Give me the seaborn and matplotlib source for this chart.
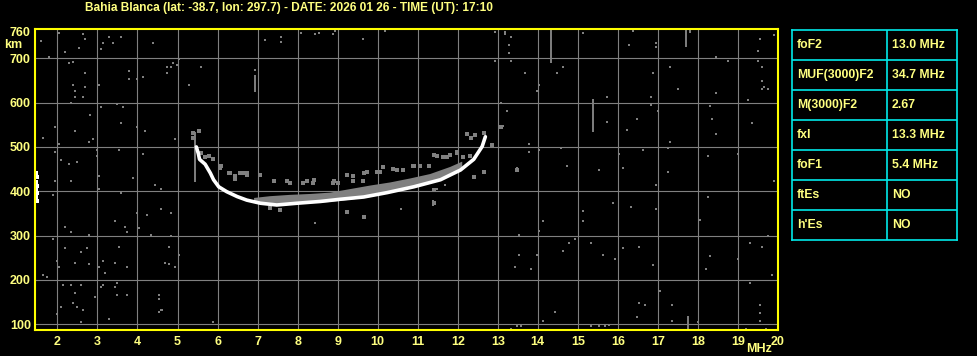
import matplotlib
matplotlib.use("Agg")
import matplotlib.pyplot as plt
import seaborn as sns
import pandas as pd

# ---------------- data ----------------
title = "Bahia Blanca (lat: -38.7, lon: 297.7) - DATE: 2026 01 26 - TIME (UT): 17:10"
x_ticks = list(range(2, 21))
y_ticks = [100, 200, 300, 400, 500, 600, 700, 760]

# main (white) F-trace
trace_f = [5.47, 5.52, 5.55, 5.69, 5.82, 5.90, 6.03, 6.23, 6.49, 6.73, 7.07, 7.48,
           7.99, 8.57, 9.07, 9.65, 10.24, 10.90, 11.57, 12.07, 12.40, 12.61, 12.69]
trace_h = [500, 485, 472, 461, 441, 426, 410, 399, 388, 380, 373, 369,
           373, 377, 382, 387, 397, 410, 426, 448, 472, 501, 523]

# grey echo band just above the trace
band_f = [6.9, 7.3, 7.8, 8.3, 8.8, 9.3, 9.8, 10.3, 10.8, 11.3, 11.8, 12.1]
band_lo = [375, 371, 371, 374, 377, 382, 388, 398, 408, 418, 436, 450]
band_hi = [386, 390, 393, 395, 398, 406, 414, 421, 430, 440, 456, 468]

# scattered grey echo marks around the trace
echo_f = [5.59, 5.69, 5.79, 5.89, 6.09, 6.29, 6.44, 6.64, 6.74, 6.44, 6.07, 6.32, 6.57,
          6.73, 7.07, 7.40, 7.73, 8.23, 8.40, 8.90, 9.23, 9.65, 10.07, 10.48, 10.90, 11.40,
          11.73, 11.98, 12.32, 12.65, 12.86, 13.07, 13.48, 7.32, 7.57, 9.23, 9.65, 11.40,
          11.40, 12.40, 12.65, 7.81, 8.14, 8.39, 8.89, 9.02, 9.39, 9.64, 10.14, 10.39, 10.64,
          10.89, 11.06, 11.27, 11.48, 11.64, 11.81, 11.98, 12.14, 12.31, 9.73, 9.98, 9.39,
          5.38, 5.38, 5.53, 12.24, 12.44]
echo_h = [486, 477, 479, 473, 456, 441, 435, 441, 441, 428, 452, 441, 441,
          437, 437, 422, 422, 422, 426, 422, 437, 441, 444, 448, 456, 482,
          478, 486, 520, 531, 505, 546, 448, 362, 358, 354, 343, 403,
          373, 433, 444, 418, 419, 419, 418, 418, 422, 424, 454, 450, 447,
          458, 458, 458, 480, 477, 482, 488, 477, 480, 443, 443, 435,
          532, 520, 537, 530, 526]

# white echoes at the left edge
edge_f = [1.47, 1.49, 1.47, 1.50, 1.47, 1.49, 1.47, 1.48]
edge_h = [442, 433, 421, 412, 404, 396, 387, 378]

# background noise specks
noise_f = [1.59, 2.03, 2.65, 2.69, 2.19, 2.54, 3.29, 3.14, 3.38, 3.59, 3.09, 2.29, 2.39, 1.79,
           2.69, 2.38, 2.44, 2.69, 2.44, 2.65, 2.34, 3.03, 3.79, 3.79, 4.13, 3.99, 4.38, 4.38,
           4.74, 5.19, 5.04, 4.89, 4.74, 4.84, 4.74, 4.99, 5.59, 5.29, 6.24, 6.54, 7.19, 7.59,
           7.59, 6.94, 3.09, 3.49, 3.64, 2.82, 3.59, 1.94, 1.64, 2.04, 2.44, 2.79, 2.89, 3.99,
           4.19, 4.94, 2.99, 2.99, 3.54, 4.14, 1.94, 2.09, 2.29, 2.49, 3.04, 3.89, 7.09, 6.64,
           6.74,
           8.08, 8.44, 8.54, 8.89, 8.94, 9.64, 10.19, 12.94, 13.19, 13.19, 13.34, 13.29, 13.29,
           12.94, 13.34, 13.69, 13.09, 13.24, 13.14, 13.79, 13.79, 13.49,
           15.14, 14.64, 14.49, 14.04, 13.99, 16.39, 16.29, 16.94, 16.94, 17.29, 16.89, 17.49,
           18.44, 18.74, 18.44, 19.54, 19.89, 19.49, 19.49, 19.59, 19.59, 19.64, 19.74, 19.59,
           15.74, 15.74, 16.84, 16.84, 16.99, 16.49, 16.24, 18.29, 18.34, 18.44, 19.24, 19.34,
           17.29, 17.24, 16.64, 16.04, 16.14, 15.54, 14.74, 14.59, 14.04, 17.24, 18.24, 19.00,
           1.94, 2.34, 1.89, 3.04, 3.59, 4.44, 4.59, 3.99, 4.24, 4.59, 4.84, 3.44, 3.69, 3.74,
           4.04, 4.34, 4.84, 2.19, 2.34, 2.79, 1.89, 2.19, 2.59, 2.74, 3.54, 4.79, 5.04, 1.99,
           2.04, 2.44, 2.79, 3.14, 3.04, 3.44, 3.74, 4.69, 4.79, 4.94, 1.64, 1.74, 3.19, 2.14,
           2.34, 2.59, 3.14, 3.09, 3.49, 3.44, 2.44, 2.94, 3.49, 3.74, 4.54, 4.54, 2.39, 2.09,
           2.49, 2.64, 4.54, 4.59, 4.62, 1.99, 3.29, 2.59, 5.89,
           9.24, 9.64, 8.44, 10.59, 11.39, 11.39, 11.49, 11.69, 13.54, 13.54, 13.44, 13.84,
           13.34, 13.49, 13.59,
           16.94, 19.89, 18.24, 15.89, 16.34, 16.94, 15.14, 15.14, 14.14, 14.04, 18.04, 14.94,
           14.79, 15.34, 14.64, 13.99, 15.64, 16.14, 16.54, 15.94, 16.89, 19.29, 19.59, 19.74,
           18.29, 18.19, 18.99, 19.84, 19.99, 19.29, 17.04, 16.54, 16.69, 17.34, 19.54, 19.54,
           19.54, 14.44, 14.14, 16.49, 17.34, 15.34, 15.54, 15.69, 15.79, 17.99, 19.19, 19.69]
noise_h = [739, 756, 754, 744, 713, 724, 748, 735, 735, 748, 721, 690, 692, 703,
           667, 640, 626, 635, 612, 612, 598, 639, 672, 653, 657, 653, 765, 735,
           767, 767, 698, 689, 680, 680, 666, 685, 680, 639, 767, 767, 742, 748,
           737, 674, 589, 597, 589, 571, 555, 544, 521, 507, 535, 510, 517, 544,
           535, 517, 494, 479, 494, 485, 489, 471, 462, 466, 435, 430, 439, 444,
           444,
           757, 754, 757, 754, 762, 744, 762, 759, 760, 754, 748, 730, 712,
           694, 694, 667, 598, 580, 548, 507, 489, 453,
           757, 680, 667, 639, 627, 762, 730, 735, 726, 680, 667, 630,
           703, 694, 621, 744, 753, 717, 694, 680, 648, 635, 630, 630,
           612, 557, 612, 594, 580, 562, 539, 592, 562, 530, 606, 553,
           512, 498, 494, 485, 453, 448, 457, 498, 494, 444, 480, 485,
           424, 424, 391, 406, 397, 415, 406, 352, 347, 361, 352, 334, 320, 307,
           316, 302, 298, 320, 307, 302, 293, 271, 262, 271, 275, 275, 257, 243,
           230, 239, 235, 243, 230, 239, 230, 239, 235, 230, 212, 207, 215, 189,
           189, 189, 189, 185, 194, 185, 171, 162, 167, 167, 167, 158, 149, 140,
           140, 131, 128, 131, 131, 122, 111, 104, 104,
           353, 343, 329, 361, 379, 370, 406, 415, 302, 257, 230, 225,
           90, 95, 96,
           415, 424, 388, 374, 365, 361, 356, 334, 334, 311, 335, 293,
           284, 284, 266, 257, 257, 271, 275, 248, 234, 284, 275, 298,
           253, 225, 248, 212, 225, 194, 176, 149, 144, 144, 144, 126,
           108, 128, 108, 117, 108, 95, 95, 95, 99, 104, 90, 90]

# vertical grey streaks (frequency, bottom km, top km)
streak_f = [5.44, 6.94, 14.34, 15.39, 17.69, 17.79, 17.74]
streak_lo = [420, 623, 689, 534, 726, 757, 87]
streak_hi = [534, 663, 763, 608, 766, 766, 119]

param_names = ["foF2", "MUF(3000)F2", "M(3000)F2", "fxI", "foF1", "ftEs", "h'Es"]
param_values = ["13.0 MHz", "34.7 MHz", "2.67", "13.3 MHz", "5.4 MHz", "NO", "NO"]

# ---------------- style ----------------
sns.set_theme(style="dark")
plt.rcParams["font.family"] = ["Liberation Sans", "DejaVu Sans"]

YEL = "#ffff80"
SPINE = "#ffff00"
GRID = "#808080"
CYAN = "#00e8e8"

W, H = 978, 356
fig = plt.figure(figsize=(W / 100, H / 100), dpi=100, facecolor="black")
renderer = fig.canvas.get_renderer()


def fit_size(sample, target_px, base=10.0):
    t = fig.text(0, 0, sample, fontsize=base, fontweight="bold")
    w = t.get_window_extent(renderer).width
    t.remove()
    return base * target_px / w


title_fs = fit_size(title, 408)
tab_fs = fit_size("MUF(3000)F2", 76)
tick_fs = fit_size("760", 21)
TXT = dict(fontweight="bold", color=YEL)

ax = fig.add_axes([35 / W, 1 - 330 / H, (778 - 35) / W, (330 - 29) / H])
ax.set_facecolor("black")
ax.set_xlim(1.44, 20.0)
ax.set_ylim(87, 766)

ax.set_xticks(x_ticks)
ax.set_yticks(y_ticks)
ax.grid(True, color=GRID, linewidth=0.8)
ax.get_ygridlines()[-1].set_visible(False)
ax.get_xgridlines()[-1].set_visible(False)
ax.tick_params(length=0, labelcolor=YEL, labelsize=tick_fs)
ax.tick_params(axis="x", pad=4)
ax.tick_params(axis="y", pad=3)
for lab in ax.get_xticklabels() + ax.get_yticklabels():
    lab.set_fontweight("bold")
for s in ax.spines.values():
    s.set_color(SPINE)
    s.set_linewidth(1.5)

# noise
noise = pd.DataFrame({"f": noise_f, "h": noise_h})
sns.scatterplot(data=noise, x="f", y="h", ax=ax, marker="s", s=2.6, color=GRID,
                linewidth=0, legend=False)
ax.vlines(streak_f, streak_lo, streak_hi, color=GRID, linewidth=1.4)

# echo band
ax.fill_between(band_f, band_lo, band_hi, color=GRID, linewidth=0)
echo = pd.DataFrame({"f": echo_f, "h": echo_h})
sns.scatterplot(data=echo, x="f", y="h", ax=ax, marker="s", s=5, color=GRID,
                linewidth=0, legend=False)

# main trace
trace = pd.DataFrame({"f": trace_f, "h": trace_h})
sns.lineplot(data=trace, x="f", y="h", ax=ax, color="white", linewidth=2.6,
             sort=False, estimator=None)
edge = pd.DataFrame({"f": edge_f, "h": edge_h})
sns.scatterplot(data=edge, x="f", y="h", ax=ax, marker="s", s=8, color="white",
                linewidth=0, legend=False, clip_on=False)

ax.set_xlabel("")
ax.set_ylabel("")

# texts
fig.text(85 / W, 1 - 8 / H, title, fontsize=title_fs, ha="left", va="center", **TXT)
fig.text(13.5 / W, 1 - 45 / H, "km", fontsize=tick_fs, ha="center", va="center", **TXT)
fig.text(759 / W, 1 - 349 / H, "MHz", fontsize=tick_fs, ha="center", va="center", **TXT)

# parameter table
tx0, tx1, ty0, ty1 = 792, 957, 30, 240
tab = fig.add_axes([tx0 / W, 1 - ty1 / H, (tx1 - tx0) / W, (ty1 - ty0) / H])
tab.set_facecolor("black")
tab.set_xlim(0, 1)
tab.set_ylim(len(param_names), 0)
tab.set_xticks([])
tab.set_yticks([])
tab.grid(False)
for s in tab.spines.values():
    s.set_color(CYAN)
    s.set_linewidth(1.2)
for i in range(1, len(param_names)):
    tab.axhline(i, color=CYAN, linewidth=1.2)
split = (887 - tx0) / (tx1 - tx0)
tab.axvline(split, color=CYAN, linewidth=1.2)
for i, (n, v) in enumerate(zip(param_names, param_values)):
    tab.text(5 / (tx1 - tx0), i + 0.5, n, fontsize=tab_fs, ha="left", va="center", **TXT)
    tab.text(split + 5 / (tx1 - tx0), i + 0.5, v, fontsize=tab_fs, ha="left",
             va="center", **TXT)

fig.savefig("out.png", dpi=100, facecolor="black")
